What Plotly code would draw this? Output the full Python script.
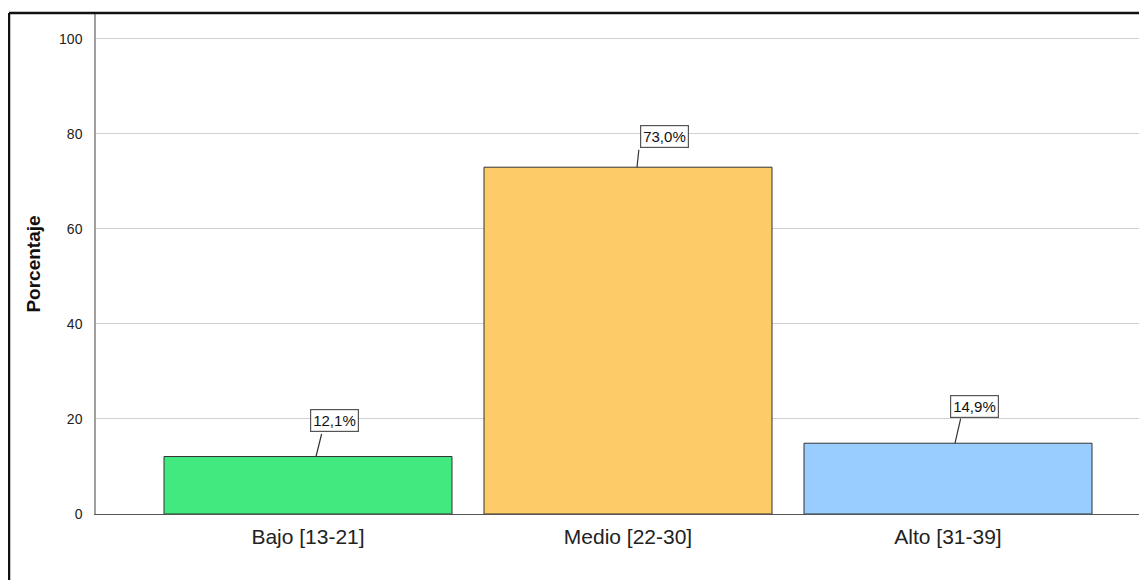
import plotly.graph_objects as go

categories = ["Bajo [13-21]", "Medio [22-30]", "Alto [31-39]"]
values = [12.1, 73.0, 14.9]
labels = ["12,1%", "73,0%", "14,9%"]
colors = ["#41E97E", "#FECB69", "#99CCFF"]
y_ticks = [0, 20, 40, 60, 80, 100]

OFF = 8  # page body margin
W, H = 1147, 580 - OFF
L, R, T, B = 96 - OFF, 0, 14 - OFF, 66

fig = go.Figure()
fig.add_trace(go.Bar(
    x=[0, 1, 2], y=values, width=0.9,
    marker=dict(color=colors, line=dict(color="#333333", width=1)),
    hoverinfo="skip",
))

# leader line: foot shift, line top offset; label box centre offset (pixels)
foot_dx = [8, 9, 7]
line_dx = [6, 2, 6]
line_dy = [-24, -19, -26]
box_dx = [26, 36, 26]
box_dy = [-36, -31, -37]
for i, (v, lab) in enumerate(zip(values, labels)):
    fig.add_annotation(
        x=i, y=v, xref="x", yref="y", text="", showarrow=True,
        arrowhead=0, arrowwidth=1.2, arrowcolor="#333333", standoff=0,
        ax=line_dx[i], ay=line_dy[i], xshift=foot_dx[i],
    )
    fig.add_annotation(
        x=i, y=v, xref="x", yref="y", text=lab, showarrow=False,
        xshift=box_dx[i], yshift=-box_dy[i],
        bgcolor="white", bordercolor="#555555", borderwidth=1.2, borderpad=2,
        font=dict(family="Liberation Sans, Arial", size=15, color="#111111"),
    )

pw = W - L - R
ph = H - T - B
fx = (9 - OFF - L) / pw
fy = 1 + 1 / ph
fig.add_shape(type="line", xref="paper", yref="paper",
              x0=fx, x1=fx, y0=fy, y1=-(B + 5) / ph,
              line=dict(color="#111111", width=2.5))
fig.add_shape(type="line", xref="paper", yref="paper",
              x0=fx, x1=1.05, y0=fy, y1=fy,
              line=dict(color="#111111", width=2.5))

fig.update_layout(
    width=W, height=H,
    margin=dict(l=L, r=R, t=T, b=B, pad=0),
    paper_bgcolor="white", plot_bgcolor="white",
    showlegend=False,
    font=dict(family="Liberation Sans, Arial", color="#222222"),
    xaxis=dict(
        range=[-0.5 - 52 / 320, -0.5 - 52 / 320 + (W - L - R) / 320],
        tickmode="array", tickvals=[0, 1, 2], ticktext=categories,
        tickfont=dict(size=21, color="#222222"),
        showline=True, linecolor="#555555", linewidth=1,
        showgrid=False, zeroline=False, ticks="", ticklabelstandoff=4,
    ),
    yaxis=dict(
        range=[0, 105.25], tickvals=y_ticks,
        tickfont=dict(size=14, color="#222222"),
        showline=True, linecolor="#A0A0A0", linewidth=1.5,
        showgrid=True, gridcolor="#D0D0D0", gridwidth=1,
        zeroline=False, ticks="", ticklabelstandoff=9,
        title=dict(text="<b>Porcentaje</b>", font=dict(size=19, color="#111111"), standoff=13),
    ),
)

fig.write_html("out.html")
